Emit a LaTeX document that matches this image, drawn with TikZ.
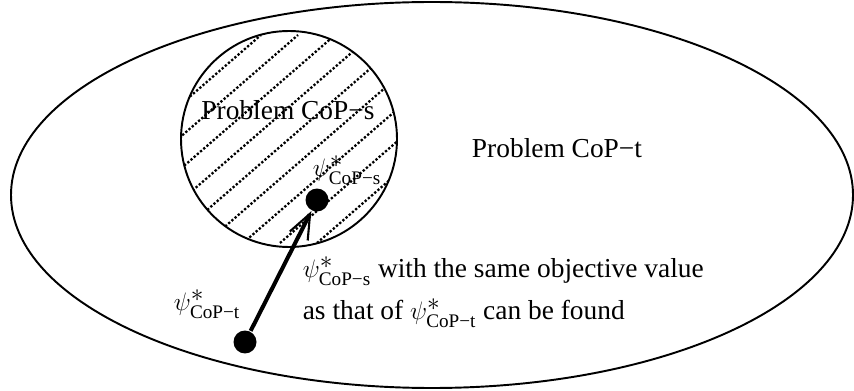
\documentclass[tikz,border=0pt]{standalone}
\usepackage{amsmath}
\usepackage{fontspec}
\setmainfont{Liberation Serif}
\usetikzlibrary{arrows.meta}

\newcommand{\optsol}[1]{\psi^{\textstyle\ast}_{\text{CoP−#1}}}

\begin{document}
\begin{tikzpicture}[
    x=0.02cm, y=-0.02cm,
    font=\fontsize{15.6}{19}\selectfont,
    line width=1.1pt,
    region/.style={draw, line width=1.1pt},
    hatch/.style={line width=1.3pt, dash pattern=on 1.3pt off 1.1pt},
    sol/.style={circle, fill, inner sep=0pt, minimum size=0.46cm}
]
    \useasboundingbox (0,0) rectangle (854,391);

    % Outer problem
    \draw[region] (432,195) ellipse (421 and 193);

    % Inner problem, hatched
    \begin{scope}
        \clip (289,139) circle (108);
        \foreach \k in {-6,...,6}
            \draw[hatch] ({289+37*\k-120},{139+104}) -- ++(240,-208);
    \end{scope}
    \draw[region] (289,139) circle (108);

    % Labels
    \node (probS) at (288,110) {Problem CoP−s};
    \node (probT) at (557,148) {Problem CoP−t};

    % Optimal solutions
    \node[sol] (solS) at (317,200) {};
    \node[sol] (solT) at (245,342) {};
    \node (labS) at (347,170) {$\optsol{s}$};
    \node (labT) at (207,304) {$\optsol{t}$};

    \draw[line width=2.3pt, -{Straight Barb[line width=1.2pt, length=5mm, width=4mm]}]
        (solT) -- (solS);

    \node[anchor=west, align=left] (note) at (296,292)
        {$\optsol{s}$\ with the same objective value\\[5pt]
         as that of $\optsol{t}$ can be found};

\end{tikzpicture}
\end{document}
